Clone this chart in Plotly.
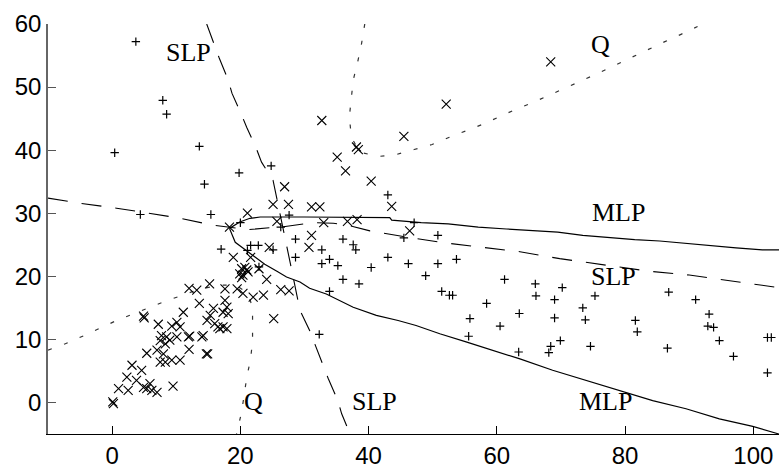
import plotly.graph_objects as go

# ---- class 1 samples (x markers) ----
cls1_x = [68.4, 52.1, 32.7, 45.5, 38.1, 38.4, 35.1, 36.4, 40.4, 43.6, 31.1, 32.4, 26.9, 25.1, 27.5,
          25.7, 33.0, 36.7, 38.2, 46.4, 31.1, 30.7, 24.5, 21.1, 18.3, 18.9, 21.6, 22.9,
          20.2, 20.7, 21.0, 19.9, 20.4, 21.2, 20.2, 24.1, 26.3, 27.6, 19.5, 20.4, 22.0, 23.6,
          17.6, 15.2, 25.2, 17.6, 17.9, 17.3, 18.1, 15.8, 15.3, 14.8, 16.0, 16.5, 17.3, 17.9,
          16.8, 14.2, 14.9, 12.0, 13.2, 13.6, 4.9, 5.0, 7.2, 11.1, 10.1, 9.3, 10.6,
          7.7, 8.5, 7.5, 8.3, 9.0, 10.1, 11.9, 12.1, 12.0, 5.4, 7.0, 8.0, 7.5, 8.3, 9.3, 10.6,
          9.5, 3.1, 4.6, 2.3, 3.8, 1.0, 2.5, 4.9, 5.4, 5.9, 6.2, 7.0, 0.2, 0.1, 14.0, 14.7]
cls1_y = [54.0, 47.3, 44.7, 42.2, 40.5, 40.1, 38.9, 36.7, 35.1, 31.1, 31.0, 31.0, 34.2, 31.4, 31.4,
          28.7, 28.5, 28.7, 29.0, 27.2, 26.5, 24.6, 24.6, 30.0, 27.8, 23.0, 23.0, 21.2,
          21.2, 21.4, 21.0, 20.4, 20.2, 20.7, 19.8, 19.5, 17.9, 17.7, 18.0, 17.3, 16.7, 17.0,
          18.0, 18.8, 13.3, 16.2, 15.1, 14.3, 14.1, 14.9, 13.8, 13.0, 12.5, 12.0, 12.0, 11.7,
          11.7, 10.6, 7.7, 18.1, 17.8, 15.7, 13.7, 13.4, 12.4, 14.3, 12.7, 12.1, 12.0,
          10.6, 10.4, 9.8, 9.3, 9.9, 10.4, 10.4, 10.5, 8.4, 7.8, 8.3, 7.7, 6.4, 6.4, 6.7, 6.7,
          2.6, 5.9, 5.1, 4.0, 3.5, 2.2, 1.9, 2.4, 2.2, 3.0, 1.9, 1.6, -0.2, 0.1, 10.4, 7.7]

# ---- class 2 samples (+ markers) ----
cls2_x = [3.7, 7.9, 8.5, 0.4, 13.6, 14.4, 19.8, 15.4, 4.4, 20.0, 17.0, 21.6, 22.8, 21.1,
          24.8, 27.6, 26.3, 25.1, 28.6, 28.6, 22.9,
          43.0, 47.1, 45.5, 50.8, 36.0, 37.6, 38.0, 32.7, 43.0, 32.7, 33.9, 35.2, 40.4, 46.2,
          50.8, 53.7, 36.0, 38.5, 48.9, 61.2, 33.9, 51.4, 52.6, 53.1, 58.4, 55.8, 63.5,
          32.3, 60.5, 55.6, 63.4,
          66.0, 70.2, 66.1, 69.0, 75.3, 86.8, 91.0, 69.0, 73.4, 73.8, 93.1, 81.6,
          81.9, 92.9, 93.8, 94.7, 102.2, 102.8, 69.9, 68.4, 68.1, 74.6, 86.6, 96.9, 102.2]
cls2_y = [57.2, 47.9, 45.7, 39.6, 40.6, 34.6, 36.4, 29.8, 29.8, 28.5, 24.3, 24.9, 24.9, 24.1,
          37.5, 29.7, 27.8, 24.2, 25.9, 23.0, 21.5,
          32.9, 28.5, 26.1, 26.5, 25.9, 25.0, 24.2, 24.2, 23.0, 22.0, 22.7, 21.7, 21.4, 22.0,
          22.0, 22.7, 19.5, 18.8, 20.1, 19.5, 17.6, 17.6, 17.0, 17.0, 15.7, 13.3, 14.1,
          10.8, 12.1, 10.5, 8.0,
          18.8, 18.2, 16.9, 16.3, 16.9, 17.5, 16.3, 13.4, 15.0, 13.1, 14.0, 13.0,
          11.2, 12.1, 11.9, 9.8, 10.3, 10.3, 9.8, 8.9, 7.9, 8.9, 8.6, 7.3, 4.7]

# ---- MLP boundary (solid) ----
mlp_up_x = [18.3, 19.9, 21.5, 23.1, 30.0, 43.3, 43.6, 48.2, 52.4, 57.1, 61.5, 63.6, 69.5, 73.4,
            77.6, 81.5, 85.4, 89.5, 93.7, 97.3, 101.4, 104.0]
mlp_up_y = [27.6, 28.6, 29.2, 29.4, 29.4, 29.3, 28.9, 28.5, 28.3, 27.8, 27.5, 27.4, 27.0, 26.5,
            26.1, 25.8, 25.6, 25.2, 24.8, 24.5, 24.2, 24.2]
mlp_lo_x = [18.3, 18.6, 19.2, 20.5, 22.0, 23.8, 25.7, 27.2, 29.3, 30.8, 33.4, 37.6, 41.2, 44.6,
            47.4, 51.1, 55.2, 59.4, 63.6, 68.7, 73.9, 79.6, 84.3, 89.5, 94.7, 99.9, 104.0]
mlp_lo_y = [27.6, 26.8, 25.4, 24.4, 23.3, 21.9, 20.8, 19.9, 19.1, 18.1, 17.2, 15.1, 13.8, 13.0,
            12.2, 10.9, 9.6, 8.3, 6.9, 5.1, 3.5, 1.8, 0.3, -1.0, -2.6, -3.8, -5.0]

# ---- SLP boundaries (dashed) ----
slp_a_x = [14.75, 15.8, 16.7, 18.0, 18.7, 20.1, 21.0, 22.4, 23.3, 25.1, 26.2, 27.8, 29.3, 30.8,
           31.6, 32.9, 33.7, 35.2, 35.8, 37.1]
slp_a_y = [60.0, 56.9, 54.6, 51.4, 49.0, 45.8, 43.6, 40.5, 38.1, 35.2, 30.0, 22.0, 14.6, 11.4,
           9.3, 5.9, 3.8, 0.3, -1.8, -5.0]
slp_b_x = [-10.0, -5.2, 0.7, 4.4, 10.1, 15.8, 21.2, 27.0, 31.4, 34.5, 36.8, 40.2, 45.4, 51.9,
           57.8, 63.6, 69.8, 75.8, 83.8, 90.0, 96.0, 99.4, 104.0]
slp_b_y = [32.4, 31.6, 30.8, 30.2, 29.3, 28.1, 27.4, 27.9, 28.5, 28.4, 28.1, 27.2, 26.3, 25.3,
           24.6, 23.9, 22.8, 21.9, 20.8, 20.2, 19.3, 18.8, 18.2]

# ---- Q boundaries (dotted) ----
q_a_x = [39.4, 38.9, 38.3, 37.6, 37.3, 37.0, 37.3, 38.6, 41.5, 44.3, 47.1, 49.9, 52.5, 55.2,
         57.8, 60.4, 63.0, 65.5, 68.2, 70.8, 73.4, 76.0, 78.5, 81.0, 83.6, 86.2, 88.8, 91.3]
q_a_y = [60.0, 56.9, 54.0, 51.1, 48.2, 45.3, 42.1, 39.7, 39.0, 39.3, 40.1, 40.9, 42.0, 43.1,
         44.1, 45.3, 46.5, 47.5, 48.7, 49.9, 51.1, 52.3, 53.5, 54.8, 56.0, 57.2, 58.4, 59.6]
q_b_x = [-10.0, -7.3, -4.6, -2.1, 0.5, 3.2, 5.8, 8.4, 11.0, 13.7, 16.8, 19.3, 21.2, 21.9,
         21.9, 21.9, 21.6, 21.0, 20.2, 19.4]
q_b_y = [8.3, 9.3, 10.5, 11.7, 12.9, 14.0, 15.1, 16.1, 17.0, 18.0, 18.6, 18.6, 17.3, 15.0,
         13.0, 9.8, 6.9, 4.0, -1.5, -5.0]

# ---- labels ----
lab_text = ["SLP", "Q", "MLP", "SLP", "MLP", "SLP", "Q"]
lab_x = [11.95, 76.1, 78.9, 78.2, 76.9, 40.9, 22.0]
lab_y = [55.5, 56.7, 30.1, 20.0, 0.2, 0.2, 0.1]

fig = go.Figure()

line_solid = dict(color="black", width=1.2)
line_dash = dict(color="black", width=1.1, dash="20px,14px")
line_dot = dict(color="#333333", width=1.2, dash="4px,13px")

fig.add_trace(go.Scatter(x=mlp_up_x, y=mlp_up_y, mode="lines", line=line_solid, showlegend=False))
fig.add_trace(go.Scatter(x=mlp_lo_x, y=mlp_lo_y, mode="lines", line=line_solid, showlegend=False))
fig.add_trace(go.Scatter(x=slp_a_x, y=slp_a_y, mode="lines", line=line_dash, showlegend=False))
fig.add_trace(go.Scatter(x=slp_b_x, y=slp_b_y, mode="lines", line=line_dash, showlegend=False))
fig.add_trace(go.Scatter(x=q_a_x, y=q_a_y, mode="lines", line=line_dot, showlegend=False))
fig.add_trace(go.Scatter(x=q_b_x, y=q_b_y, mode="lines", line=line_dot, showlegend=False))

fig.add_trace(go.Scatter(x=cls1_x, y=cls1_y, mode="markers", showlegend=False,
                         marker=dict(symbol="x-thin", size=9, color="black",
                                     line=dict(color="black", width=1.1))))
fig.add_trace(go.Scatter(x=cls2_x, y=cls2_y, mode="markers", showlegend=False,
                         marker=dict(symbol="cross-thin", size=6, color="black",
                                     line=dict(color="black", width=1.2))))

for t, x, y in zip(lab_text, lab_x, lab_y):
    fig.add_annotation(x=x, y=y, xref="x", yref="y", text=t, showarrow=False,
                       font=dict(family="Liberation Serif, Times New Roman, serif", size=26, color="black"),
                       xanchor="center", yanchor="middle")

fig.update_layout(
    width=779, height=469,
    margin=dict(l=48, r=0, t=24, b=35),
    paper_bgcolor="white", plot_bgcolor="white",
    font=dict(family="Liberation Sans, Arial, sans-serif", size=24, color="black"),
)
fig.update_xaxes(range=[-10, 104], tickvals=[0, 20, 40, 60, 80, 100], ticks="inside", ticklen=8,
                 tickcolor="black", showline=True, linecolor="black", linewidth=1.3,
                 showgrid=False, zeroline=False, mirror=False)
fig.update_yaxes(range=[-5, 60], tickvals=[0, 10, 20, 30, 40, 50, 60], ticks="inside", ticklen=8,
                 tickcolor="#555555", showline=True, linecolor="#666666", linewidth=1.6,
                 showgrid=False, zeroline=False, mirror=False)

fig.write_html("out.html")
